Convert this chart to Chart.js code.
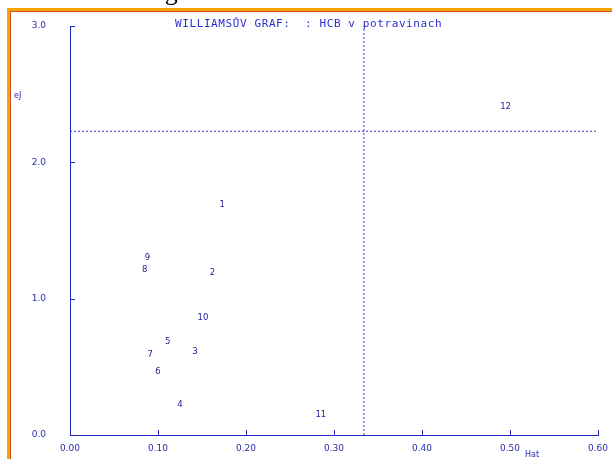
<!DOCTYPE html>
<html>
<head>
<meta charset="utf-8">
<script src="https://cdn.jsdelivr.net/npm/chart.js@4/dist/chart.umd.min.js"></script>
<style>
  html, body { margin: 0; padding: 0; background: #ffffff; }
  #wrap { position: relative; width: 612px; height: 459px; overflow: hidden; background: #ffffff; }
  #c { position: absolute; left: 0; top: 0; }
  #doc { position: absolute; left: 38px; top: -23px; font: 26px "Liberation Serif", serif; color: #000; white-space: nowrap; }
  .bar { position: absolute; }
</style>
</head>
<body>
<div id="wrap">
  <canvas id="c" width="612" height="459"></canvas>
  <div id="doc">Williamsův graf</div>
  <div class="bar" style="left:7px;top:8px;width:605px;height:3px;background:#f5a400;"></div>
  <div class="bar" style="left:10px;top:11px;width:602px;height:1px;background:#d8502a;"></div>
  <div class="bar" style="left:7px;top:8px;width:3px;height:451px;background:#f5a400;"></div>
  <div class="bar" style="left:10px;top:11px;width:1px;height:448px;background:#d8502a;"></div>
</div>
<script>
// ---- data ----
const pointLabels = ['1','2','3','4','5','6','7','8','9','10','11','12'];
const hatValues   = [0.173, 0.162, 0.142, 0.125, 0.111, 0.100, 0.091, 0.085, 0.088, 0.151, 0.285, 0.495];
const ejValues    = [1.69, 1.19, 0.61, 0.22, 0.68, 0.46, 0.59, 1.21, 1.30, 0.86, 0.15, 2.41];
const hatLimit = 0.3340;
const ejLimit = 2.228;
const xTickValues = [0.0, 0.1, 0.2, 0.3, 0.4, 0.5, 0.6];
const yTickValues = [0.0, 1.0, 2.0, 3.0];
const chartTitle = 'WILLIAMSŮV GRAF:  : HCB v potravinach';
const xName = 'Hat';
const yName = 'eJ';

const axisColor = '#2626c4';
const textColor = '#2b2bb0';
const dotColor = '#3a3ad0';

const overlay = {
  id: 'overlay',
  afterDatasetsDraw(chart) {
    const { ctx, chartArea, scales: { x, y } } = chart;
    ctx.save();
    // inner tick marks
    ctx.strokeStyle = axisColor;
    ctx.lineWidth = 1;
    xTickValues.forEach(v => {
      if (v === 0) return;
      const px = Math.round(x.getPixelForValue(v)) + 0.5;
      ctx.beginPath();
      ctx.moveTo(px, chartArea.bottom);
      ctx.lineTo(px, chartArea.bottom - 5);
      ctx.stroke();
    });
    yTickValues.forEach(v => {
      if (v === 0) return;
      const py = Math.round(y.getPixelForValue(v)) + 0.5;
      ctx.beginPath();
      ctx.moveTo(chartArea.left, py);
      ctx.lineTo(chartArea.left + 5, py);
      ctx.stroke();
    });
    // point labels
    const meta = chart.getDatasetMeta(0);
    ctx.fillStyle = '#22229c';
    ctx.font = '8.5px "DejaVu Sans", sans-serif';
    ctx.textAlign = 'center';
    ctx.textBaseline = 'middle';
    meta.data.forEach((el, i) => {
      ctx.fillText(pointLabels[i], el.x, el.y);
    });
    // axis names
    ctx.fillStyle = textColor;
    ctx.font = '8px "DejaVu Sans", sans-serif';
    ctx.textAlign = 'left';
    ctx.fillText(yName, 14, 96);
    ctx.fillText(xName, 525, 455);
    // title
    ctx.fillStyle = '#2d2dd4';
    ctx.font = '11px "DejaVu Sans Mono", monospace';
    ctx.letterSpacing = '0.6px';
    ctx.textBaseline = 'alphabetic';
    ctx.fillText(chartTitle, 175, 27);
    ctx.restore();
  }
};

new Chart(document.getElementById('c'), {
  type: 'scatter',
  data: {
    datasets: [
      {
        label: 'points',
        data: hatValues.map((h, i) => ({ x: h, y: ejValues[i] })),
        pointRadius: 0,
        pointHoverRadius: 0,
        showLine: false
      },
      {
        label: 'ejLimit',
        data: [{ x: 0, y: ejLimit }, { x: 0.6, y: ejLimit }],
        showLine: true,
        pointRadius: 0,
        borderColor: dotColor,
        borderWidth: 1,
        borderDash: [2, 2]
      },
      {
        label: 'hatLimit',
        data: [{ x: hatLimit, y: 0 }, { x: hatLimit, y: 3 }],
        showLine: true,
        pointRadius: 0,
        borderColor: dotColor,
        borderWidth: 1,
        borderDash: [2, 2]
      }
    ]
  },
  options: {
    responsive: false,
    animation: false,
    devicePixelRatio: 1,
    layout: { padding: { top: 26, right: 14, bottom: 0, left: 0 } },
    plugins: { legend: { display: false }, tooltip: { enabled: false }, title: { display: false } },
    scales: {
      x: {
        type: 'linear',
        min: 0, max: 0.6,
        afterFit: s => { s.height = 24; s.paddingLeft = 0; s.paddingRight = 0; },
        afterBuildTicks: s => { s.ticks = xTickValues.map(v => ({ value: v })); },
        grid: { display: false, drawTicks: false },
        border: { display: true, color: axisColor, width: 1 },
        ticks: {
          padding: 8,
          color: textColor,
          font: { family: '"DejaVu Sans", sans-serif', size: 9 },
          maxRotation: 0,
          autoSkip: false,
          callback: v => Number(v).toFixed(2)
        }
      },
      y: {
        type: 'linear',
        min: 0, max: 3,
        afterFit: s => { s.width = 70; s.paddingTop = 0; s.paddingBottom = 0; },
        afterBuildTicks: s => { s.ticks = yTickValues.map(v => ({ value: v })); },
        grid: { display: false, drawTicks: false },
        border: { display: true, color: axisColor, width: 1 },
        ticks: {
          padding: 24,
          color: textColor,
          font: { family: '"DejaVu Sans", sans-serif', size: 9 },
          autoSkip: false,
          callback: v => Number(v).toFixed(1)
        }
      }
    }
  },
  plugins: [overlay]
});
</script>
</body>
</html>
